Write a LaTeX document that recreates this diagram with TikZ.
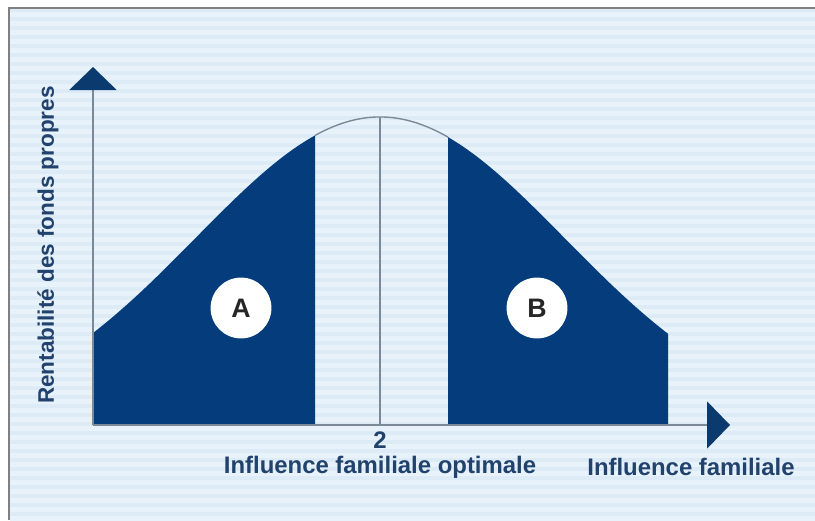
\documentclass[tikz,border=0pt]{standalone}
\usepackage{fontspec}
\setmainfont{Liberation Sans}
\usetikzlibrary{arrows.meta}
\definecolor{bgblue}{HTML}{DCEBF6}
\definecolor{stripeblue}{HTML}{E8F2FA}
\definecolor{areablue}{HTML}{043C7C}
\definecolor{tipblue}{HTML}{0B3A6E}
\definecolor{axisgray}{HTML}{7C8A98}
\definecolor{labelblue}{HTML}{21426D}
\tikzset{
  axis/.style={axisgray, line width=1.5pt,
    -{Triangle[width=1.175cm,length=0.575cm,color=tipblue]}},
  zone/.style={circle, fill=white, minimum size=1.52cm, inner sep=0pt,
    text=black!85, font=\fontsize{19}{19}\selectfont\bfseries},
  label/.style={text=labelblue, font=\fontsize{17}{20}\selectfont\bfseries}
}
\begin{document}
\begin{tikzpicture}[x=0.025cm,y=-0.025cm,
  declare function={bell(\t)=425-308*exp(-0.5*((\t-380)/184.6)^2);}]
\useasboundingbox (0,0) rectangle (815,520);
\fill[bgblue] (9,8) rectangle (815,520);
\foreach \s in {0,...,56}
  \fill[stripeblue] (10,{12+\s*9}) rectangle (815,{16.5+\s*9});
\draw[gray, line width=0.8pt] (9,520) -- (9,8) -- (815,8);

\coordinate (O) at (93,425);
\coordinate (ytop) at (93,67);
\coordinate (xend) at (730,425);
\coordinate (peak) at (380,117);
\coordinate (base) at (380,425);

\fill[areablue] (93,425) -- plot[domain=93:315,samples=60] (\x,{bell(\x)}) -- (315,425) -- cycle;
\fill[areablue] (448,425) -- plot[domain=448:668,samples=60] (\x,{bell(\x)}) -- (668,425) -- cycle;
\draw[axisgray, line width=1pt] plot[domain=315:448,samples=40] (\x,{bell(\x)});
\draw[axisgray, line width=1.2pt] (peak) -- (base);

\draw[axis] (O) -- (ytop);
\draw[axis] (O) -- (xend);

\node[zone] (A) at (241,308) {A};
\node[zone] (B) at (537,308) {B};

\node[label, rotate=90, font=\fontsize{16}{19}\selectfont\bfseries] (ylab) at (48,245) {Rentabilité des fonds propres};
\node[label] (two) at (380,440) {2};
\node[label] (opt) at (380,467) {Influence familiale optimale};
\node[label] (xlab) at (691,467) {Influence familiale};
\end{tikzpicture}
\end{document}
